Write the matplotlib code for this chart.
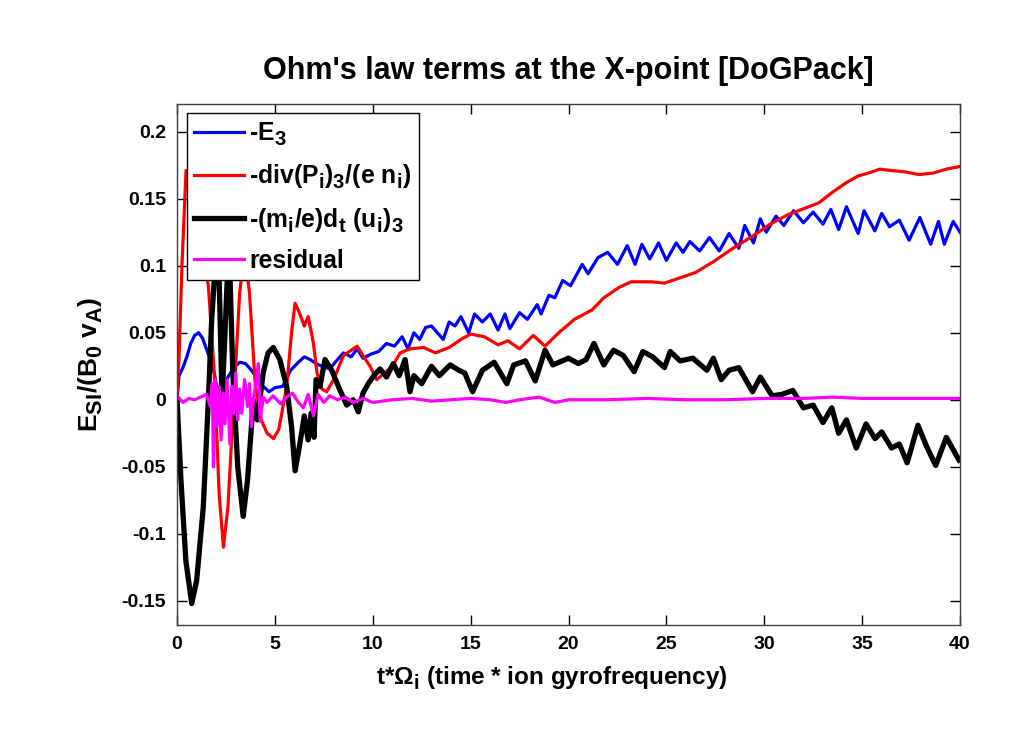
import matplotlib
matplotlib.use("Agg")
import matplotlib.pyplot as plt
import matplotlib._mathtext as mathtext_internal
import numpy as np

# MATLAB-style subscripts: larger and lower than matplotlib's default
mathtext_internal.SHRINK_FACTOR = 0.82
mathtext_internal.FontConstantsBase.sub1 = 0.42
mathtext_internal.FontConstantsBase.sub2 = 0.55

plt.rcParams['font.family'] = ['Liberation Sans', 'DejaVu Sans']
plt.rcParams['font.weight'] = 'bold'
plt.rcParams['axes.labelweight'] = 'bold'
plt.rcParams['axes.titleweight'] = 'bold'
plt.rcParams['mathtext.fontset'] = 'custom'
plt.rcParams['mathtext.bf'] = 'Liberation Sans:bold'
plt.rcParams['mathtext.rm'] = 'Liberation Sans:bold'
plt.rcParams['mathtext.it'] = 'Liberation Sans:bold'
plt.rcParams['mathtext.default'] = 'bf'

# -E_3
t_e3 = [0, 0.1, 0.3, 0.5, 0.7, 0.9, 1.1, 1.3, 1.5, 1.7, 1.9, 2.1, 2.3, 2.6, 2.9, 3.2, 3.5, 3.8,
        4.1, 4.4, 4.7, 5.0, 5.4, 5.8, 6.2, 6.5, 6.8, 7.1, 7.4, 7.8, 8.2, 8.5, 8.9, 9.2, 9.5, 9.9,
        10.3, 10.7, 11.1, 11.5, 11.8, 12.1, 12.4, 12.7, 13.0, 13.3, 13.6, 13.9, 14.2, 14.5, 14.9,
        15.2, 15.6, 16.0, 16.4, 16.75, 17.0, 17.5, 17.9, 18.4, 18.6, 19.0, 19.3, 19.7, 20.1, 20.7,
        21.0, 21.5, 22.0, 22.5, 23.0, 23.4, 23.75, 24.15, 24.6, 25.0, 25.5, 25.85, 26.2, 26.7,
        27.2, 27.7, 28.2, 28.7, 29.0, 29.45, 29.8, 30.1, 30.6, 31.0, 31.5, 32.0, 32.5, 33.0, 33.4,
        33.8, 34.2, 34.8, 35.1, 35.65, 36.0, 36.4, 36.9, 37.4, 37.95, 38.5, 38.9, 39.2, 39.65, 40.0]
e3 = [0.0, 0.018, 0.024, 0.032, 0.042, 0.048, 0.050, 0.046, 0.038, 0.030, 0.02, 0.004, 0.008,
      0.017, 0.024, 0.028, 0.027, 0.022, 0.016, 0.010, 0.006, 0.009, 0.010, 0.022, 0.028, 0.032,
      0.030, 0.027, 0.025, 0.023, 0.030, 0.035, 0.032, 0.038, 0.031, 0.034, 0.036, 0.042, 0.040,
      0.047, 0.038, 0.050, 0.045, 0.054, 0.055, 0.050, 0.045, 0.058, 0.055, 0.062, 0.050, 0.064,
      0.058, 0.064, 0.052, 0.064, 0.053, 0.065, 0.060, 0.071, 0.064, 0.078, 0.076, 0.089, 0.085,
      0.101, 0.094, 0.106, 0.110, 0.101, 0.115, 0.101, 0.116, 0.105, 0.117, 0.104, 0.117, 0.110,
      0.118, 0.111, 0.121, 0.111, 0.124, 0.113, 0.130, 0.117, 0.135, 0.125, 0.137, 0.130, 0.141,
      0.132, 0.140, 0.131, 0.142, 0.127, 0.144, 0.124, 0.141, 0.126, 0.139, 0.129, 0.134, 0.119,
      0.136, 0.116, 0.133, 0.116, 0.133, 0.125]

# -div(P_i)_3/(e n_i)
t_divp = [0, 0.1, 0.25, 0.46, 0.7, 1.0, 1.3, 1.6, 1.9, 2.15, 2.37, 2.6, 2.9, 3.2, 3.45, 3.7, 4.0,
          4.3, 4.6, 4.93, 5.2, 5.6, 5.85, 6.03, 6.25, 6.5, 6.7, 6.97, 7.15, 7.4, 7.64, 8.0, 8.5,
          9.0, 9.2, 9.5, 9.86, 10.2, 10.6, 11.0, 11.4, 11.9, 12.6, 13.2, 13.9, 14.5, 15.0, 15.7,
          16.4, 16.9, 17.5, 18.2, 18.8, 19.5, 20.3, 21.2, 21.8, 22.6, 23.2, 24.2, 24.9, 25.7, 26.5,
          27.4, 28.4, 29.4, 30.3, 31.2, 32.1, 32.8, 33.5, 34.2, 34.8, 35.3, 35.9, 36.5, 37.2, 37.9,
          38.6, 39.3, 40.0]
divp = [0.005, 0.03, 0.10, 0.171, 0.16, 0.14, 0.11, 0.085, 0.02, -0.07, -0.110, -0.08, 0.0, 0.08,
        0.11, 0.08, 0.01, -0.015, -0.025, -0.029, -0.022, 0.01, 0.05, 0.072, 0.065, 0.055, 0.062,
        0.042, 0.02, 0.008, 0.006, 0.015, 0.033, 0.038, 0.040, 0.033, 0.025, 0.015, 0.02, 0.025,
        0.035, 0.038, 0.039, 0.035, 0.039, 0.045, 0.049, 0.047, 0.041, 0.044, 0.038, 0.048, 0.040,
        0.050, 0.060, 0.067, 0.076, 0.084, 0.088, 0.088, 0.087, 0.091, 0.095, 0.103, 0.113, 0.122,
        0.131, 0.138, 0.143, 0.147, 0.155, 0.162, 0.167, 0.169, 0.172, 0.171, 0.170, 0.168, 0.169,
        0.172, 0.174]

# -(m_i/e) d_t (u_i)_3
t_dtu = [0, 0.2, 0.45, 0.75, 1.0, 1.34, 1.6, 1.77, 1.95, 2.1, 2.3, 2.45, 2.65, 2.85, 3.1, 3.38,
         3.6, 3.9, 4.1, 4.4, 4.65, 4.92, 5.25, 5.6, 5.85, 6.03, 6.25, 6.5, 6.7, 6.85, 7.0, 7.1,
         7.3, 7.56, 7.9, 8.3, 8.67, 9.0, 9.26, 9.5, 9.77, 10.05, 10.37, 10.7, 11.05, 11.35, 11.65,
         11.9, 12.1, 12.5, 13.0, 13.4, 13.95, 14.4, 14.7, 15.1, 15.6, 16.2, 16.85, 17.2, 17.8,
         18.3, 18.8, 19.2, 20.0, 20.5, 20.9, 21.3, 21.8, 22.3, 22.8, 23.35, 23.8, 24.3, 24.9, 25.2,
         25.7, 26.35, 27.07, 27.4, 27.8, 28.2, 28.7, 29.4, 29.8, 30.4, 30.9, 31.46, 32.0, 32.5,
         33.0, 33.45, 33.8, 34.2, 34.7, 35.2, 35.66, 36.0, 36.5, 36.9, 37.3, 37.85, 38.3, 38.76,
         39.3, 39.95]
dtu = [0.0, -0.06, -0.12, -0.152, -0.135, -0.08, 0.0, 0.06, 0.10, 0.12, 0.0, 0.05, 0.12, 0.02,
       -0.05, -0.087, -0.06, 0.0, -0.015, 0.02, 0.035, 0.039, 0.030, 0.01, -0.02, -0.053, -0.035,
       -0.012, -0.03, -0.01, -0.028, 0.015, 0.010, 0.030, 0.022, 0.008, -0.004, 0.0, -0.009,
       0.005, 0.012, 0.018, 0.023, 0.017, 0.027, 0.018, 0.030, 0.006, 0.018, 0.012, 0.025, 0.018,
       0.026, 0.022, 0.020, 0.006, 0.022, 0.028, 0.012, 0.026, 0.029, 0.014, 0.037, 0.026, 0.031,
       0.027, 0.030, 0.042, 0.026, 0.037, 0.033, 0.021, 0.036, 0.032, 0.024, 0.036, 0.029, 0.031,
       0.022, 0.031, 0.015, 0.022, 0.024, 0.006, 0.017, 0.003, 0.004, 0.007, -0.006, -0.004,
       -0.017, -0.006, -0.025, -0.015, -0.036, -0.018, -0.029, -0.024, -0.036, -0.033, -0.047,
       -0.019, -0.035, -0.049, -0.028, -0.045]

# residual
t_res = [0, 0.3, 0.6, 0.9, 1.2, 1.5, 1.7, 1.8, 1.86, 1.95, 2.05, 2.15, 2.25, 2.35, 2.45, 2.55,
         2.7, 2.8, 2.9, 3.0, 3.1, 3.2, 3.3, 3.45, 3.6, 3.7, 3.8, 3.9, 4.0, 4.15, 4.25, 4.4, 4.6,
         4.9, 5.3, 5.6, 5.9, 6.2, 6.45, 6.7, 6.97, 7.2, 7.5, 7.8, 8.2, 8.6, 9.0, 9.5, 10.0, 11,
         12, 13, 14, 15, 16, 16.8, 17.5, 18.5, 19.3, 20, 22, 24, 26, 28, 30, 32, 33.5, 35, 37,
         39, 40]
res = [0.003, -0.002, 0.001, 0.0, 0.002, 0.004, -0.005, 0.012, -0.05, 0.015, -0.02, 0.01, -0.03,
       0.005, -0.018, 0.015, -0.033, 0.01, -0.01, 0.02, -0.015, 0.008, -0.01, 0.015, -0.005,
       0.012, -0.02, 0.0, 0.01, 0.027, -0.016, 0.002, -0.002, 0.003, -0.003, 0.002, 0.005,
       -0.002, -0.006, 0.004, -0.012, 0.004, -0.002, 0.003, 0.0, 0.002, -0.002, 0.001, -0.002,
       0.0, 0.001, -0.001, 0.0, 0.001, 0.0, -0.002, 0.0, 0.002, -0.002, 0.0, 0.0, 0.001, 0.0,
       0.0, 0.001, 0.001, 0.002, 0.001, 0.001, 0.001, 0.001]

labels = [r'-E$_3$', r'-div(P$_i$)$_3$/(e n$_i$)', r'-(m$_i$/e)d$_t$ (u$_i$)$_3$', 'residual']

fig = plt.figure(figsize=(10.24, 7.31), dpi=100)
ax = fig.add_axes([0.1729, 0.145, 0.7646, 0.7127])

ax.plot(t_e3, e3, color='#0000ff', lw=2.3, label=labels[0])
ax.plot(t_divp, divp, color='#ff0000', lw=2.3, label=labels[1])
ax.plot(t_dtu, dtu, color='black', lw=3.8, label=labels[2])
ax.plot(t_res, res, color='#ff00ff', lw=2.3, label=labels[3])

ax.set_xlim(0, 40)
ax.set_ylim(-0.168, 0.2206)
ax.set_xticks(np.arange(0, 41, 5))
ax.set_yticks([-0.15, -0.1, -0.05, 0, 0.05, 0.1, 0.15, 0.2])
ax.set_yticklabels(['-0.15', '-0.1', '-0.05', '0', '0.05', '0.1', '0.15', '0.2'])
ax.tick_params(direction='in', length=7, width=1, top=True, right=True, labelsize=14, pad=8)
for s in ax.spines.values():
    s.set_linewidth(1)
    s.set_color('0.25')

ax.set_title("Ohm's law terms at the X-point [DoGPack]", fontsize=22, fontweight='bold', pad=18)
ax.set_xlabel(r't*$\Omega_i$ (time * ion gyrofrequency)', fontsize=17.5, fontweight='bold')
ax.xaxis.set_label_coords(0.478, -0.075)
ax.set_ylabel(r'E$_{SI}$/(B$_0$ v$_A$)', fontsize=19, fontweight='bold')
ax.yaxis.set_label_coords(-0.092, 0.5)

leg = ax.legend(loc='upper left', bbox_to_anchor=(0.0128, 0.983), fontsize=17.8, frameon=True,
                fancybox=False, framealpha=1, edgecolor='black', borderaxespad=0,
                handlelength=2.0, labelspacing=0.58, borderpad=0.3, handletextpad=0.2)
leg.get_frame().set_linewidth(1)

fig.savefig('out.png', dpi=100)
